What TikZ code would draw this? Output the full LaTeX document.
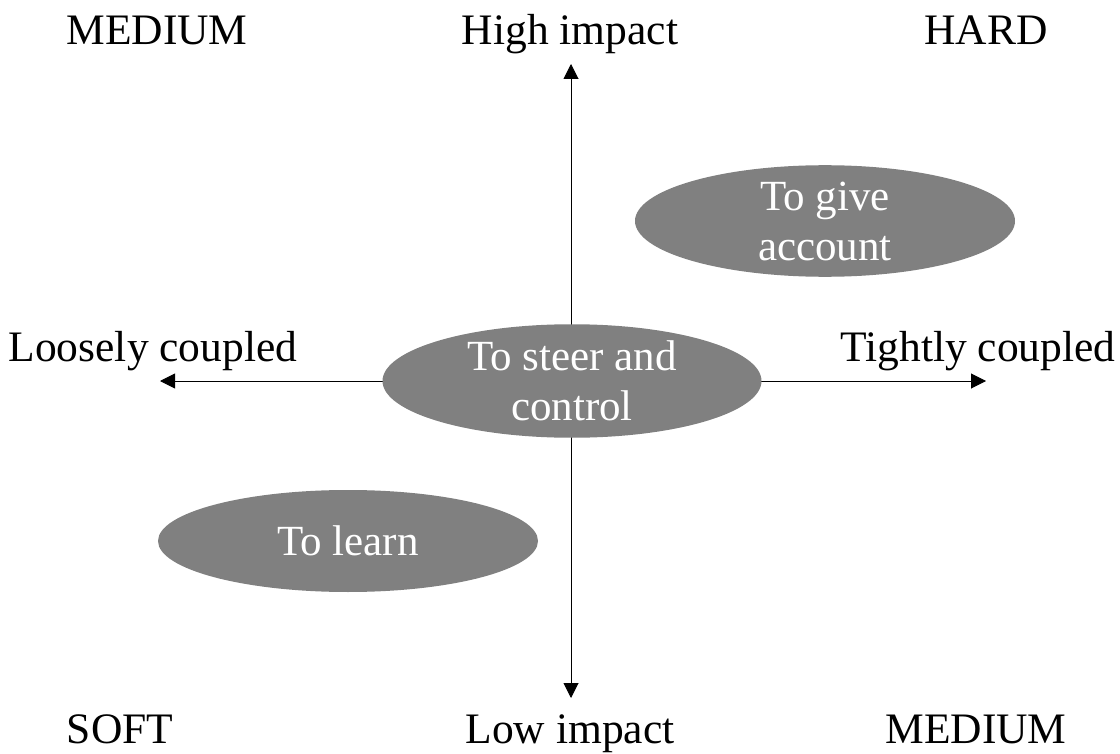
\documentclass[tikz,border=0pt]{standalone}
\usepackage{fontspec}
\setmainfont{Liberation Serif}
\usetikzlibrary{shapes.geometric,arrows.meta}
\definecolor{ellgray}{HTML}{808080}
\tikzset{
  lbl/.style={anchor=base, inner sep=0pt, font=\fontsize{43.5}{50}\selectfont},
  oval/.style={ellipse, fill=ellgray, text=white, inner sep=0pt, align=center,
    font=\fontsize{43}{50}\selectfont},
  axis/.style={line width=1pt, -{Triangle[length=15pt,width=15pt]}}
}
\begin{document}
\begin{tikzpicture}[x=1pt,y=-1pt]
\useasboundingbox (0,0) rectangle (1120,754);
% axis end points
\coordinate (top) at (571,64);
\coordinate (bottom) at (571,698);
\coordinate (left) at (160,381);
\coordinate (right) at (986,381);
\coordinate (ctr) at (571,381);
% axes
\draw[axis] (ctr) -- (top);
\draw[axis] (ctr) -- (bottom);
\draw[axis] (ctr) -- (left);
\draw[axis] (ctr) -- (right);
% ellipses
\node[oval, minimum width=379pt, minimum height=108pt] (steer) at (572,381) {To steer and\\control};
\node[oval, minimum width=380pt, minimum height=106pt] (give) at (825,221) {To give\\account};
\node[oval, minimum width=380pt, minimum height=102pt] (learn) at (348,541) {To learn};
% labels
\node[lbl] (mtl) at (157,45) {MEDIUM};
\node[lbl] (high) at (570,45) {High impact};
\node[lbl] (hard) at (986,45) {HARD};
\node[lbl] (loose) at (153,361) {Loosely coupled};
\node[lbl] (tight) at (978,361) {Tightly coupled};
\node[lbl] (soft) at (120,743) {SOFT};
\node[lbl] (low) at (570,743) {Low impact};
\node[lbl] (mbr) at (976,743) {MEDIUM};
\end{tikzpicture}
\end{document}
